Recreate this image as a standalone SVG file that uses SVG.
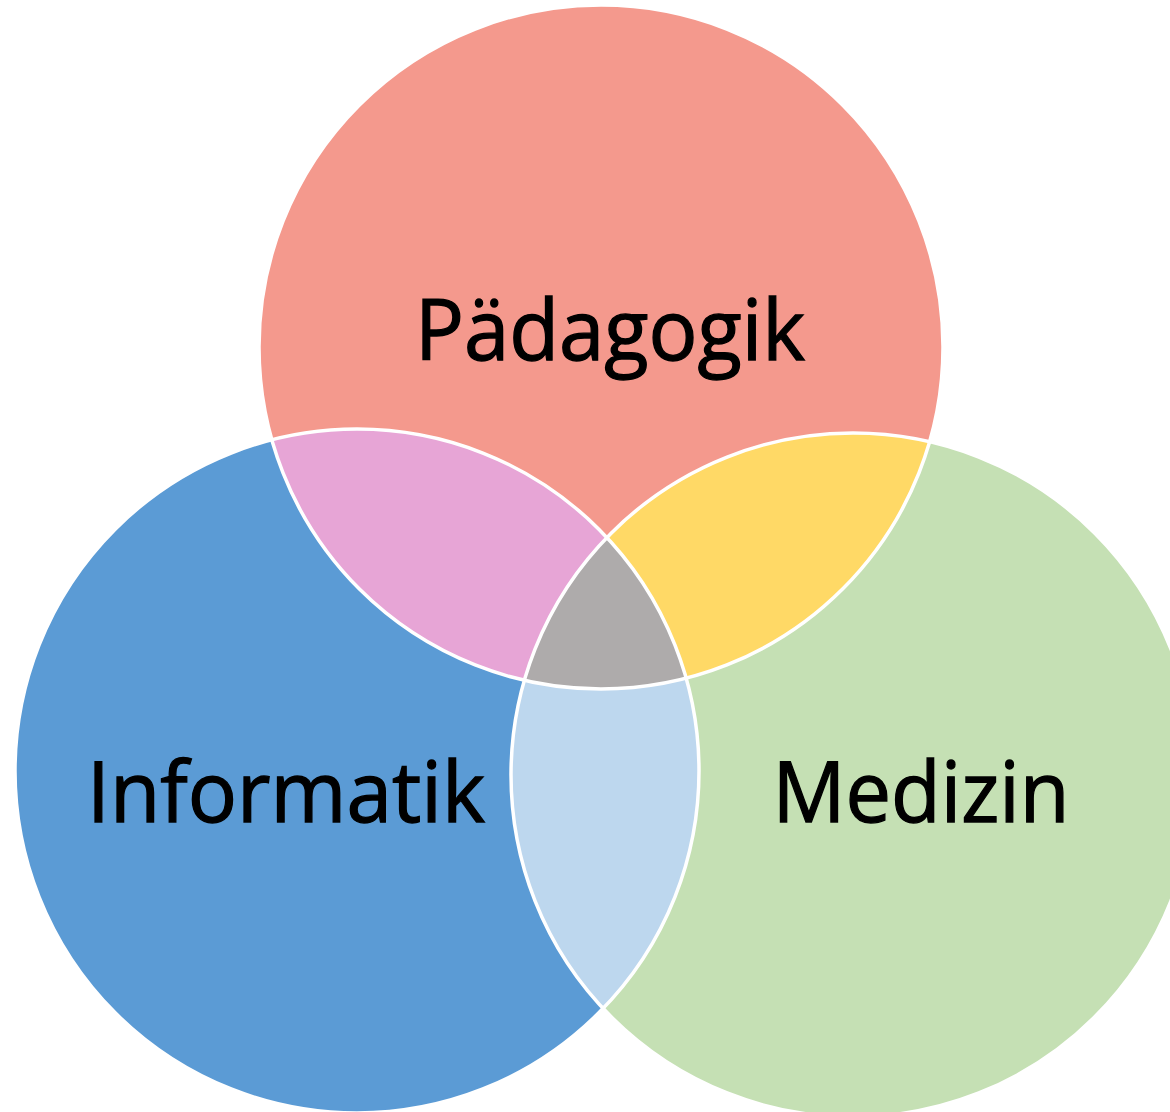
<svg xmlns="http://www.w3.org/2000/svg" width="1170" height="1112" viewBox="0 0 1170 1112">
<style>
.lbl{font-family:"Open Sans","Liberation Sans",sans-serif;font-size:84px;fill:#000;stroke:#000;stroke-width:1.3;text-anchor:middle}
.edge{fill:none;stroke:#fff;stroke-width:3.5}
</style>
<defs>
<clipPath id="cTop"><circle cx="601" cy="347" r="342"/></clipPath>
<clipPath id="cLeft"><circle cx="357" cy="771" r="342"/></clipPath>
<clipPath id="cRight"><circle cx="853" cy="775" r="342"/></clipPath>
</defs>
<rect width="1170" height="1112" fill="#fff"/>
<g id="informatik"><circle cx="357" cy="771" r="342" fill="#5B9BD5"/></g>
<g id="medizin"><circle cx="853" cy="775" r="342" fill="#C5E0B4"/></g>
<g id="paedagogik"><circle cx="601" cy="347" r="342" fill="#F4998D"/></g>
<g id="overlap-pi" clip-path="url(#cTop)"><circle cx="357" cy="771" r="342" fill="#E7A5D6"/></g>
<g id="overlap-pm" clip-path="url(#cTop)"><circle cx="853" cy="775" r="342" fill="#FFD966"/></g>
<g id="overlap-im" clip-path="url(#cLeft)"><circle cx="853" cy="775" r="342" fill="#BDD7EE"/></g>
<g id="overlap-all" clip-path="url(#cTop)"><g clip-path="url(#cLeft)"><circle cx="853" cy="775" r="342" fill="#AEABAB"/></g></g>
<g id="connectors">
<circle class="edge" cx="601" cy="347" r="342"/>
<circle class="edge" cx="357" cy="771" r="342"/>
<circle class="edge" cx="853" cy="775" r="342"/>
</g>
<text class="lbl" x="610" y="360" textLength="390" lengthAdjust="spacingAndGlyphs">Pädagogik</text>
<text class="lbl" x="286" y="822" textLength="398" lengthAdjust="spacingAndGlyphs">Informatik</text>
<text class="lbl" x="921" y="822" textLength="297" lengthAdjust="spacingAndGlyphs">Medizin</text>
</svg>
